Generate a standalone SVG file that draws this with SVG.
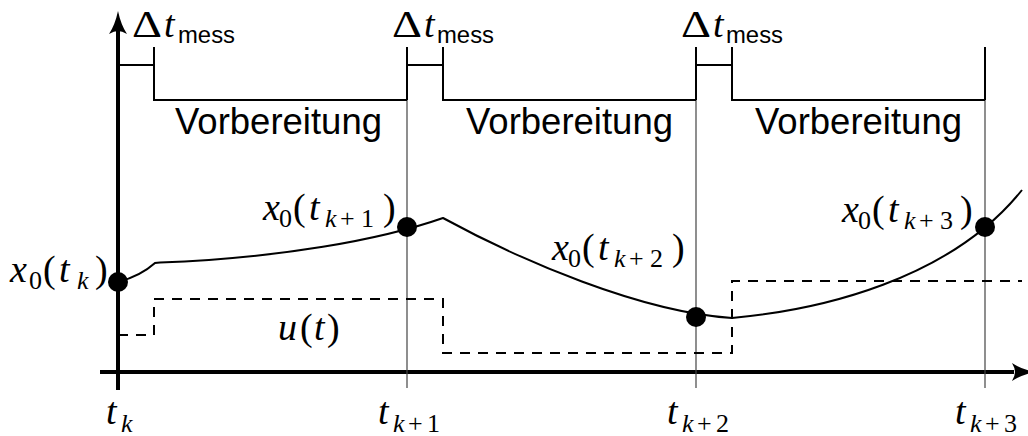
<svg xmlns="http://www.w3.org/2000/svg" width="1028" height="436" viewBox="0 0 1028 436">
<defs>
<path id="arrowUp" d="M0,0 Q3,14 9,23 Q4,20 0,20 Q-4,20 -9,23 Q-3,14 0,0 Z"/>
</defs>
<g id="axes" stroke="#000" stroke-width="4" fill="none">
<line x1="118" y1="390" x2="118" y2="30"/>
<line x1="100" y1="372" x2="1014" y2="372"/>
<use href="#arrowUp" x="118" y="11" fill="#000" stroke="none"/>
<use href="#arrowUp" transform="translate(1035,372) rotate(90)" fill="#000" stroke="none"/>
</g>
<g id="gridlines" stroke="#444" stroke-width="1.2" fill="none">
<line x1="407" y1="100" x2="407" y2="388"/>
<line x1="696" y1="100" x2="696" y2="388"/>
<line x1="985" y1="100" x2="985" y2="388"/>
</g>
<g id="brackets" stroke="#000" stroke-width="2" fill="none">
<path d="M118,65 H154 M154,47 V100 H407 M407,47 V100 M407,65 H443 M443,47 V100 H696 M696,47 V100 M696,65 H732 M732,47 V100 H985 M985,47 V100"/>
</g>
<g id="curves" stroke="#000" stroke-width="2" fill="none">
<path stroke-dasharray="10 8" d="M118,335 H154 V299 H443 V353 H732 V281 H1022"/>
<path d="M118,282 C133,278 145,272 155,263 L160,262.5 C280,258 380,240 443,218 C520,260 640,312 732,318 C820,310 950,280 1022,190"/>
</g>
<g id="points" fill="#000">
<circle cx="118" cy="282" r="10"/>
<circle cx="407" cy="227" r="10"/>
<circle cx="696" cy="317" r="10"/>
<circle cx="985" cy="227" r="10"/>
</g>
<g id="labels-dt" fill="#000">
<text x="132" y="37" font-family="Liberation Serif" font-size="38" textLength="30" lengthAdjust="spacingAndGlyphs">Δ</text>
<text x="164" y="37" font-family="Liberation Serif" font-style="italic" font-size="38">t</text>
<text x="178" y="43" font-family="Liberation Sans" font-size="23" textLength="57" lengthAdjust="spacingAndGlyphs">mess</text>
<text x="392" y="37" font-family="Liberation Serif" font-size="38" textLength="30" lengthAdjust="spacingAndGlyphs">Δ</text>
<text x="424" y="37" font-family="Liberation Serif" font-style="italic" font-size="38">t</text>
<text x="437" y="43" font-family="Liberation Sans" font-size="23" textLength="57" lengthAdjust="spacingAndGlyphs">mess</text>
<text x="681" y="37" font-family="Liberation Serif" font-size="38" textLength="30" lengthAdjust="spacingAndGlyphs">Δ</text>
<text x="713" y="37" font-family="Liberation Serif" font-style="italic" font-size="38">t</text>
<text x="726" y="43" font-family="Liberation Sans" font-size="23" textLength="57" lengthAdjust="spacingAndGlyphs">mess</text>
</g>
<g id="labels-vorbereitung" fill="#000">
<text x="175" y="134" font-family="Liberation Sans" font-size="36" textLength="207" lengthAdjust="spacingAndGlyphs">Vorbereitung</text>
<text x="466" y="134" font-family="Liberation Sans" font-size="36" textLength="207" lengthAdjust="spacingAndGlyphs">Vorbereitung</text>
<text x="755" y="134" font-family="Liberation Sans" font-size="36" textLength="207" lengthAdjust="spacingAndGlyphs">Vorbereitung</text>
</g>
<g id="labels-x" fill="#000">
<text y="282" font-family="Liberation Serif" font-style="italic" font-size="38"><tspan x="10">x</tspan><tspan x="29" dy="7" font-style="normal" font-size="26">0</tspan><tspan x="43" dy="-7" font-style="normal">(</tspan><tspan x="59">t</tspan><tspan x="77" dy="7" font-size="26">k</tspan><tspan x="95" dy="-7" font-style="normal">)</tspan></text>
<text y="220" font-family="Liberation Serif" font-style="italic" font-size="38"><tspan x="263">x</tspan><tspan x="279" dy="7" font-style="normal" font-size="26">0</tspan><tspan x="293" dy="-7" font-style="normal">(</tspan><tspan x="309">t</tspan><tspan x="325" dy="7" font-size="26">k</tspan><tspan x="340" font-style="normal" font-size="26">+</tspan><tspan x="361" font-style="normal" font-size="26">1</tspan><tspan x="383" dy="-7" font-style="normal">)</tspan></text>
<text y="260" font-family="Liberation Serif" font-style="italic" font-size="38"><tspan x="552">x</tspan><tspan x="568" dy="7" font-style="normal" font-size="26">0</tspan><tspan x="582" dy="-7" font-style="normal">(</tspan><tspan x="598">t</tspan><tspan x="614" dy="7" font-size="26">k</tspan><tspan x="629" font-style="normal" font-size="26">+</tspan><tspan x="650" font-style="normal" font-size="26">2</tspan><tspan x="672" dy="-7" font-style="normal">)</tspan></text>
<text y="222" font-family="Liberation Serif" font-style="italic" font-size="38"><tspan x="842">x</tspan><tspan x="858" dy="7" font-style="normal" font-size="26">0</tspan><tspan x="872" dy="-7" font-style="normal">(</tspan><tspan x="888">t</tspan><tspan x="904" dy="7" font-size="26">k</tspan><tspan x="919" font-style="normal" font-size="26">+</tspan><tspan x="940" font-style="normal" font-size="26">3</tspan><tspan x="960" dy="-7" font-style="normal">)</tspan></text>
<text y="340" font-family="Liberation Serif" font-style="italic" font-size="38"><tspan x="278">u</tspan><tspan x="300" font-style="normal">(</tspan><tspan x="314">t</tspan><tspan x="327" font-style="normal">)</tspan></text>
</g>
<g id="labels-t" fill="#000">
<text y="424" font-family="Liberation Serif" font-style="italic" font-size="38"><tspan x="106">t</tspan><tspan x="121" dy="8" font-size="26">k</tspan></text>
<text y="424" font-family="Liberation Serif" font-style="italic" font-size="38"><tspan x="378">t</tspan><tspan x="393" dy="8" font-size="26">k</tspan><tspan x="408" font-style="normal" font-size="26">+</tspan><tspan x="427" font-style="normal" font-size="26">1</tspan></text>
<text y="424" font-family="Liberation Serif" font-style="italic" font-size="38"><tspan x="667">t</tspan><tspan x="682" dy="8" font-size="26">k</tspan><tspan x="697" font-style="normal" font-size="26">+</tspan><tspan x="716" font-style="normal" font-size="26">2</tspan></text>
<text y="424" font-family="Liberation Serif" font-style="italic" font-size="38"><tspan x="955">t</tspan><tspan x="970" dy="8" font-size="26">k</tspan><tspan x="985" font-style="normal" font-size="26">+</tspan><tspan x="1004" font-style="normal" font-size="26">3</tspan></text>
</g>
</svg>
